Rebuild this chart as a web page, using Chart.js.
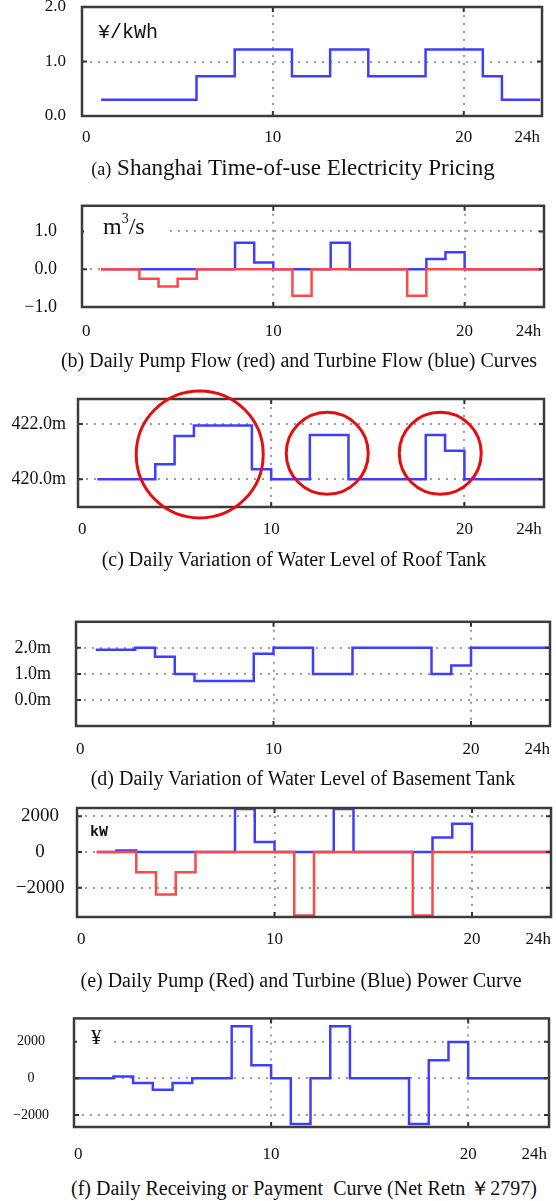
<!DOCTYPE html>
<html><head><meta charset="utf-8">
<script src="https://cdn.jsdelivr.net/npm/chart.js@4.4.1/dist/chart.umd.min.js"></script>
<style>
html,body{margin:0;padding:0;width:556px;height:1201px;overflow:hidden;background:#fff;position:relative;}
canvas{position:absolute;left:0;}
.lbl{position:absolute;white-space:nowrap;color:#111;}
.cap{position:absolute;white-space:nowrap;color:#111;font-family:'Liberation Serif',serif;font-size:20px;line-height:24px;transform:translateX(-50%);}
</style></head><body>
<canvas id="ca"></canvas><canvas id="cb"></canvas><canvas id="cc"></canvas>
<canvas id="cd"></canvas><canvas id="ce"></canvas><canvas id="cf"></canvas>

<div class="lbl" style="left:98px;top:21px;font-family:'Liberation Mono',monospace;font-size:20px;line-height:24px;">¥/kWh</div>
<div class="lbl" style="left:84px;top:212px;width:82px;height:28px;background:#fff;padding-left:19px;box-sizing:border-box;font-family:'Liberation Serif',serif;font-size:24px;line-height:28px;">m<sup style="font-size:14px;vertical-align:top;line-height:14px;">3</sup>/s</div>
<div class="lbl" style="left:90px;top:824px;font-family:'Liberation Mono',monospace;font-weight:bold;font-size:15px;line-height:18px;">kW</div>
<div class="lbl" style="left:77px;top:1026px;width:35px;height:22px;background:#fff;padding-left:14px;box-sizing:border-box;font-family:'Liberation Serif',serif;font-size:21px;line-height:22px;">¥</div>

<div class="cap" style="left:293px;top:155px;font-size:23px;line-height:26px;"><span style="font-size:18px">(a)</span> Shanghai Time-of-use Electricity Pricing</div>
<div class="cap" style="left:299px;top:348px;">(b) Daily Pump Flow (red) and Turbine Flow (blue) Curves</div>
<div class="cap" style="left:294px;top:547px;">(c) Daily Variation of Water Level of Roof Tank</div>
<div class="cap" style="left:303px;top:766px;">(d) Daily Variation of Water Level of Basement Tank</div>
<div class="cap" style="left:301px;top:968px;">(e) Daily Pump (Red) and Turbine (Blue) Power Curve</div>
<div class="cap" style="left:304px;top:1176px;">(f) Daily Receiving or Payment&nbsp; Curve (Net Retn ￥2797)</div>

<script>
// ---------------- data ----------------
const xTickValues = [0, 10, 20, 24];

// (a) time-of-use price, ¥/kWh (value holds until next hour listed)
const priceHours  = [1, 6, 8, 11, 13, 15, 18, 21, 22, 24];
const priceValues = [0.30, 0.73, 1.22, 0.73, 1.22, 0.73, 1.22, 0.73, 0.30, 0.30];
const priceTicks  = [0, 1, 2];

// (b) flows, m3/s
const pumpFlowHours     = [1, 3, 4, 5, 6, 11, 12, 17, 18, 24];
const pumpFlowValues    = [0, -0.25, -0.46, -0.25, 0, -0.70, 0, -0.70, 0, 0];
const turbineFlowHours  = [1, 8, 9, 10, 13, 14, 18, 19, 20, 24];
const turbineFlowValues = [0, 0.70, 0.18, 0, 0.70, 0, 0.27, 0.45, 0, 0];
const flowTicks = [-1, 0, 1];

// (c) roof tank level, m
const roofHours  = [1, 4, 5, 6, 9, 10, 12, 14, 18, 19, 20, 24];
const roofLevels = [420.0, 420.54, 421.56, 421.94, 420.36, 420.0, 421.6, 420.0, 421.6, 421.03, 420.0, 420.0];
const roofTicks  = [420, 422];
const circleHours  = [6.3, 12.9, 18.75];
const circleLevels = [420.9, 420.94, 420.94];

// (d) basement tank level, m
const basementHours  = [1, 3, 4, 5, 6, 9, 10, 12, 14, 18, 19, 20, 24];
const basementLevels = [1.93, 2.0, 1.66, 1.0, 0.73, 1.77, 2.0, 1.0, 2.0, 1.0, 1.32, 2.0, 2.0];
const basementTicks  = [0, 1, 2];

// (e) power, kW
const pumpPowerHours     = [1, 3, 4, 5, 6, 11, 12, 17, 18, 24];
const pumpPowerValues    = [0, -1130, -2375, -1130, 0, -3550, 0, -3550, 0, 0];
const turbinePowerHours  = [1, 2, 3, 8, 9, 10, 13, 14, 18, 19, 20, 24];
const turbinePowerValues = [0, 90, 0, 2400, 560, 0, 2400, 0, 815, 1580, 0, 0];
const powerTicks = [-2000, 0, 2000];

// (f) receiving / payment, ¥
const cashHours  = [0, 2, 3, 4, 5, 6, 8, 9, 10, 11, 12, 13, 14, 17, 18, 19, 20, 24];
const cashValues = [0, 100, -250, -630, -250, 0, 2840, 720, 0, -2500, 0, 2840, 0, -2500, 990, 1990, 0, 0];
const cashTicks  = [-2000, 0, 2000];

// ---------------- style ----------------
const BLUE = 'rgb(62,62,255)';
const RED = 'rgb(255,72,72)';
const GRID = '#9c9c9c';
const FRAME = '#3c3c3c';
const circleRadiusPx = [63.5, 41, 41];
const CW = 600;
Chart.defaults.font.family = "'Liberation Serif', 'Times New Roman', serif";
Chart.defaults.color = '#111';

const pts = (hs, vs) => hs.map((h, i) => ({x: h, y: vs[i]}));
const line = (hs, vs, color, order) => ({data: pts(hs, vs), borderColor: color, borderWidth: 2.5,
  stepped: true, pointRadius: 0, fill: false, order: order});

const minus = v => (v < 0 ? '\u2212' : '');
const fmt1 = v => minus(v) + Math.abs(v).toFixed(1);
const fmtM = v => minus(v) + Math.abs(v).toFixed(1) + 'm';
const fmt0 = v => minus(v) + Math.abs(v).toFixed(0);

const framePlugin = {
  id: 'frame',
  afterDatasetsDraw(chart) {
    const {ctx, chartArea: a, scales: {x, y}} = chart;
    ctx.save();
    ctx.strokeStyle = '#333';
    ctx.lineWidth = 2;
    ctx.beginPath();
    [10, 20].forEach(v => {
      const px = x.getPixelForValue(v);
      ctx.moveTo(px, a.top); ctx.lineTo(px, a.top + 5);
      ctx.moveTo(px, a.bottom); ctx.lineTo(px, a.bottom - 5);
    });
    y.ticks.forEach(t => {
      if (t.value <= y.min || t.value >= y.max) return;
      const py = y.getPixelForValue(t.value);
      ctx.moveTo(a.left, py); ctx.lineTo(a.left + 5, py);
      ctx.moveTo(a.right, py); ctx.lineTo(a.right - 5, py);
    });
    ctx.stroke();
    ctx.strokeStyle = FRAME;
    ctx.lineWidth = 2.5;
    ctx.strokeRect(a.left, a.top, a.right - a.left, a.bottom - a.top);
    ctx.restore();
  }
};

const circlePlugin = {
  id: 'circles',
  afterDraw(chart) {
    const {ctx, scales: {x, y}} = chart;
    ctx.save();
    ctx.strokeStyle = 'rgb(228,14,14)';
    ctx.lineWidth = 3;
    circleHours.forEach((h, i) => {
      ctx.beginPath();
      ctx.arc(x.getPixelForValue(h), y.getPixelForValue(circleLevels[i]), circleRadiusPx[i], 0, Math.PI * 2);
      ctx.stroke();
    });
    ctx.restore();
  }
};

function panel(id, o) {
  const cv = document.getElementById(id);
  const padTop = 30, axisH = 45;
  const H = (o.box.b - o.box.t) + padTop + axisH;
  cv.width = CW; cv.height = H;
  cv.style.width = CW + 'px'; cv.style.height = H + 'px';
  cv.style.top = (o.box.t - padTop) + 'px';
  return new Chart(cv, {
    type: 'line',
    data: {datasets: o.datasets},
    options: {
      responsive: false, animation: false, devicePixelRatio: 1,
      layout: {padding: {top: padTop, right: CW - o.box.r, left: 0, bottom: 0}},
      plugins: {legend: {display: false}, tooltip: {enabled: false}},
      scales: {
        x: {
          type: 'linear', min: 0, max: o.xMax,
          afterBuildTicks: s => { s.ticks = xTickValues.map(v => ({value: v})); },
          afterFit: s => { s.height = axisH; },
          ticks: {align: 'inner', padding: o.xPad, font: {size: 17}, color: '#111', maxRotation: 0, autoSkip: false,
            callback: v => (v === 24 ? '24h' : String(v))},
          grid: {drawTicks: false, lineWidth: 2,
            color: c => (c.tick && (c.tick.value === 10 || c.tick.value === 20)) ? GRID : 'rgba(0,0,0,0)'},
          border: {display: false, dash: [2, 6]}
        },
        y: {
          type: 'linear', min: o.yMin, max: o.yMax,
          afterBuildTicks: s => { s.ticks = o.yTicks.map(v => ({value: v})); },
          afterFit: s => { s.width = o.box.l; },
          ticks: {padding: o.yPad, font: {size: o.yFont}, color: '#111', autoSkip: false,
            crossAlign: o.yAlign || 'near', callback: o.yFmt},
          grid: {drawTicks: false, lineWidth: 2,
            color: c => (c.tick && c.tick.value > o.yMin && c.tick.value < o.yMax) ? GRID : 'rgba(0,0,0,0)'},
          border: {display: false, dash: [2, 6]}
        }
      }
    },
    plugins: [framePlugin].concat(o.extra || [])
  });
}

panel('ca', {box: {l: 82, r: 542, t: 7, b: 116}, xMax: 24.1, xPad: 11.8,
  yMin: 0, yMax: 2, yTicks: priceTicks, yFmt: fmt1, yFont: 17, yPad: 16,
  datasets: [line(priceHours, priceValues, BLUE, 0)]});

panel('cb', {box: {l: 82, r: 544, t: 200, b: 307}, xMax: 24.15, xPad: 14.5,
  yMin: -1, yMax: 1.68, yTicks: flowTicks, yFmt: fmt1, yFont: 18, yPad: 25,
  datasets: [line(pumpFlowHours, pumpFlowValues, RED, 0), line(turbineFlowHours, turbineFlowValues, BLUE, 1)]});

panel('cc', {box: {l: 78, r: 544, t: 399, b: 507}, xMax: 24.12, xPad: 12.1,
  yMin: 419, yMax: 422.9, yTicks: roofTicks, yFmt: fmtM, yFont: 18, yPad: 12,
  datasets: [line(roofHours, roofLevels, BLUE, 0)], extra: [circlePlugin]});

panel('cd', {box: {l: 76, r: 550, t: 616, b: 726}, xMax: 24, xPad: 13.8,
  yMin: -1, yMax: 3, yTicks: basementTicks, yFmt: fmtM, yFont: 18, yPad: 25,
  datasets: [line(basementHours, basementLevels, BLUE, 0)]});

panel('ce', {box: {l: 77, r: 551, t: 808, b: 917}, xMax: 24, xPad: 12.1,
  yMin: -3630, yMax: 2460, yTicks: powerTicks, yFmt: fmt0, yFont: 19, yPad: 12.6, yAlign: 'center',
  datasets: [line(pumpPowerHours, pumpPowerValues, RED, 0), line(turbinePowerHours, turbinePowerValues, BLUE, 1)]});

panel('cf', {box: {l: 74, r: 549, t: 1015, b: 1127}, xMax: 24.1, xPad: 17.8,
  yMin: -2660, yMax: 3275, yTicks: cashTicks, yFmt: fmt0, yFont: 14, yPad: 25, yAlign: 'center',
  datasets: [line(cashHours, cashValues, BLUE, 0)]});
</script>
</body></html>
